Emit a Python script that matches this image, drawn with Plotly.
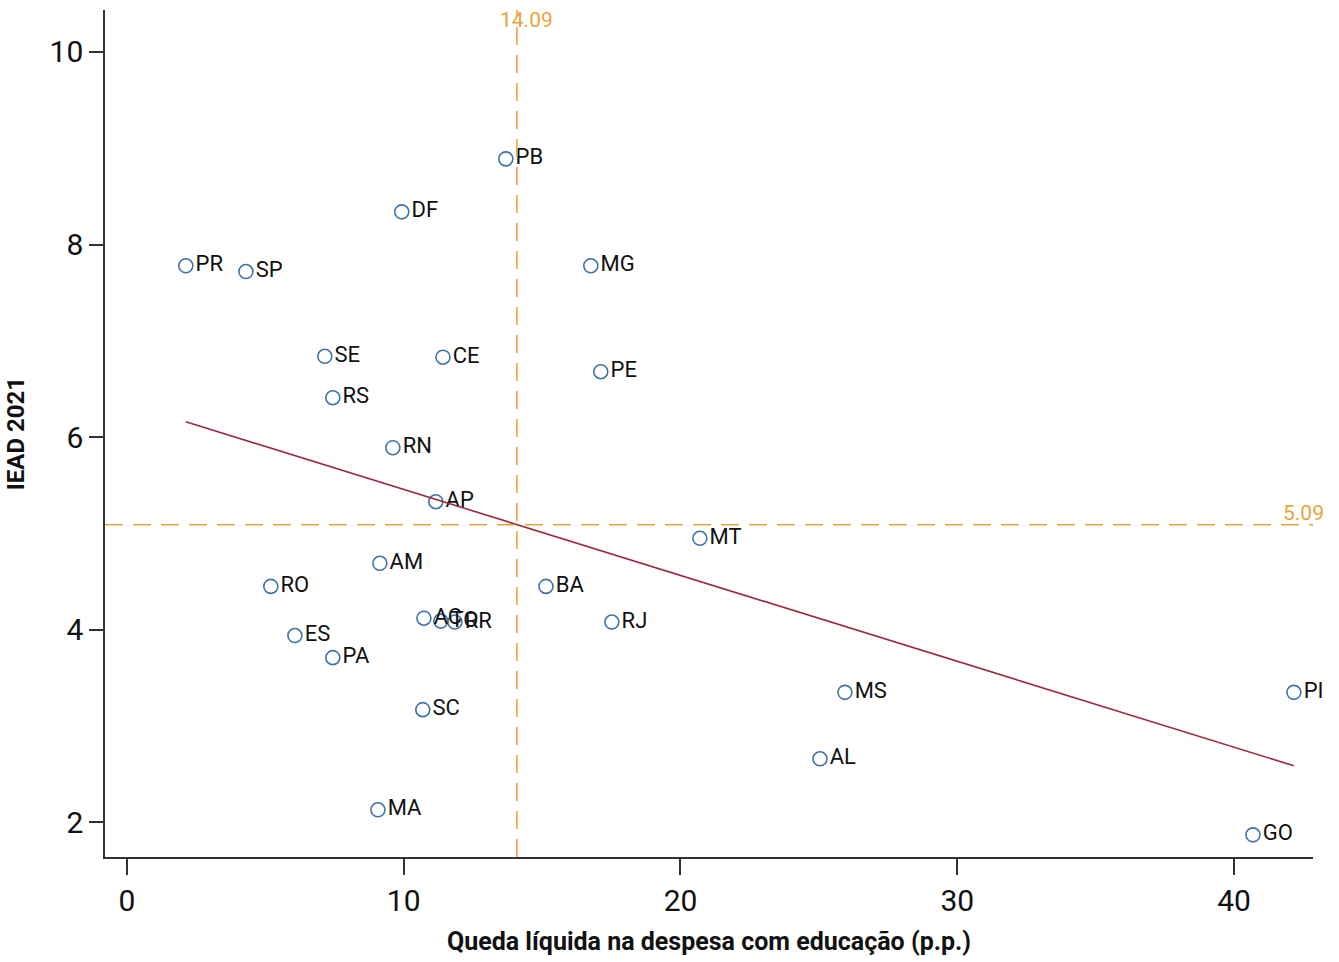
import numpy as np
import plotly.graph_objects as go

states = ["PB", "DF", "PR", "SP", "MG", "SE", "CE", "PE", "RS", "RN", "AP", "MT", "AM", "RO",
          "BA", "AC", "TO", "RR", "RJ", "ES", "PA", "SC", "MS", "PI", "AL", "MA", "GO"]
queda = [13.69, 9.93, 2.13, 4.30, 16.76, 7.15, 11.42, 17.12, 7.44, 9.61, 11.16, 20.70, 9.14, 5.20,
         15.14, 10.73, 11.34, 11.85, 17.52, 6.07, 7.44, 10.69, 25.94, 42.16, 25.04, 9.07, 40.68]
iead = [8.89, 8.34, 7.78, 7.72, 7.78, 6.84, 6.83, 6.68, 6.41, 5.89, 5.33, 4.95, 4.69, 4.45,
        4.45, 4.12, 4.09, 4.08, 4.08, 3.94, 3.71, 3.17, 3.35, 3.35, 2.66, 2.13, 1.87]
mean_x = 14.09
mean_y = 5.09
x_ticks = [0, 10, 20, 30, 40]
y_ticks = [2, 4, 6, 8, 10]

FONT = "Roboto, Liberation Sans, sans-serif"
BLUE = "#3f73a8"
RED = "#9b2a3f"
ORANGE = "#e8a43c"

xs = np.array(queda)
ys = np.array(iead)
b, a = np.polyfit(xs, ys, 1)
fx = np.array([xs.min(), xs.max()])
fy = a + b * fx

fig = go.Figure()
fig.add_trace(go.Scatter(
    x=queda, y=iead, mode="markers+text", text=states, textposition="middle right",
    marker=dict(symbol="circle-open", size=14, color=BLUE, line=dict(width=1.6, color=BLUE)),
    textfont=dict(family=FONT, size=22, color="#111111"), cliponaxis=False, showlegend=False,
))
fig.add_trace(go.Scatter(
    x=fx, y=fy, mode="lines", line=dict(color=RED, width=1.6), showlegend=False,
))

fig.add_shape(type="line", xref="x", yref="paper", x0=mean_x, x1=mean_x, y0=0, y1=1,
              line=dict(color=ORANGE, width=1.6, dash="18px,10px"))
fig.add_shape(type="line", xref="paper", yref="y", x0=0, x1=1, y0=mean_y, y1=mean_y,
              line=dict(color=ORANGE, width=1.6, dash="18px,10px"))
fig.add_annotation(x=mean_x, y=1.0, xref="x", yref="paper", text=f"{mean_x:.2f}",
                   showarrow=False, yanchor="middle", xanchor="center", xshift=10, yshift=-10,
                   font=dict(family=FONT, size=21, color=ORANGE))
fig.add_annotation(x=1.0, y=mean_y, xref="paper", yref="y", text=f"{mean_y:.2f}",
                   showarrow=False, yanchor="bottom", xanchor="right", xshift=13, yshift=-2,
                   font=dict(family=FONT, size=21, color=ORANGE))

fig.update_layout(
    width=1339, height=962,
    margin=dict(l=105, r=26, t=10, b=105),
    plot_bgcolor="white", paper_bgcolor="white",
    font=dict(family=FONT, color="#111111"),
)
fig.update_xaxes(
    range=[-0.79, 42.85], tickvals=x_ticks, ticktext=[str(t) for t in x_ticks],
    showgrid=False, zeroline=False, showline=True, linecolor="#333333", linewidth=1.5,
    ticks="outside", ticklen=16, tickwidth=1.5, tickcolor="#333333",
    tickfont=dict(family=FONT, size=30), automargin=False,
    title=dict(text="<b>Queda líquida na despesa com educação (p.p.)</b>",
               font=dict(family=FONT, size=25), standoff=16),
)
fig.update_yaxes(
    range=[1.64, 10.436], tickvals=y_ticks, ticktext=[str(t) for t in y_ticks],
    showgrid=False, zeroline=False, showline=True, linecolor="#333333", linewidth=1.5,
    ticks="outside", ticklen=14, tickwidth=1.5, tickcolor="#333333",
    tickfont=dict(family=FONT, size=30), automargin=False,
    title=dict(text="<b>IEAD 2021</b>", font=dict(family=FONT, size=24), standoff=18),
)

page_js = "document.body.style.margin='0';document.body.style.padding='0';"
fig.write_html("out.html", post_script=page_js, config={"displayModeBar": False})
